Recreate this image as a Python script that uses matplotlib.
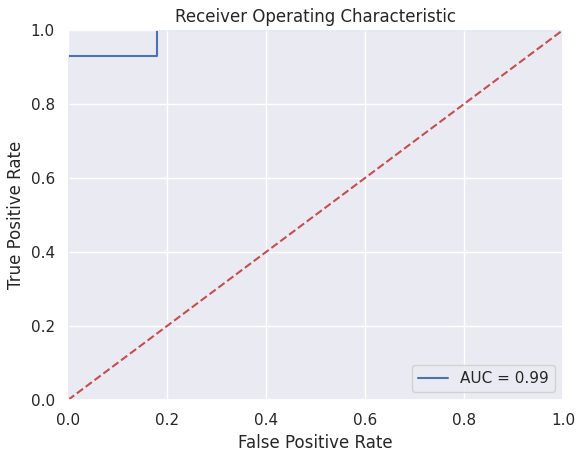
import matplotlib
matplotlib.use("Agg")
import matplotlib.pyplot as plt
import seaborn as sns

sns.set_theme()

fpr = [0.0, 0.0, 0.18, 0.18, 1.0]
tpr = [0.0, 0.93, 0.93, 1.0, 1.0]
roc_auc = 0.99
diag = [0, 1]

W, H = 586, 458
fig = plt.figure(figsize=(W / 100, H / 100), dpi=100)
ax = fig.add_axes([68 / W, 1 - 400 / H, (563 - 68) / W, (400 - 30) / H])
ax.set_title('Receiver Operating Characteristic')
ax.plot(fpr, tpr, 'b', label='AUC = %0.2f' % roc_auc)
ax.legend(loc='lower right')
ax.plot(diag, diag, 'r--')
ax.set_xlim([0, 1])
ax.set_ylim([0, 1])
ax.set_ylabel('True Positive Rate')
ax.set_xlabel('False Positive Rate')
fig.savefig('out.png', dpi=100)
